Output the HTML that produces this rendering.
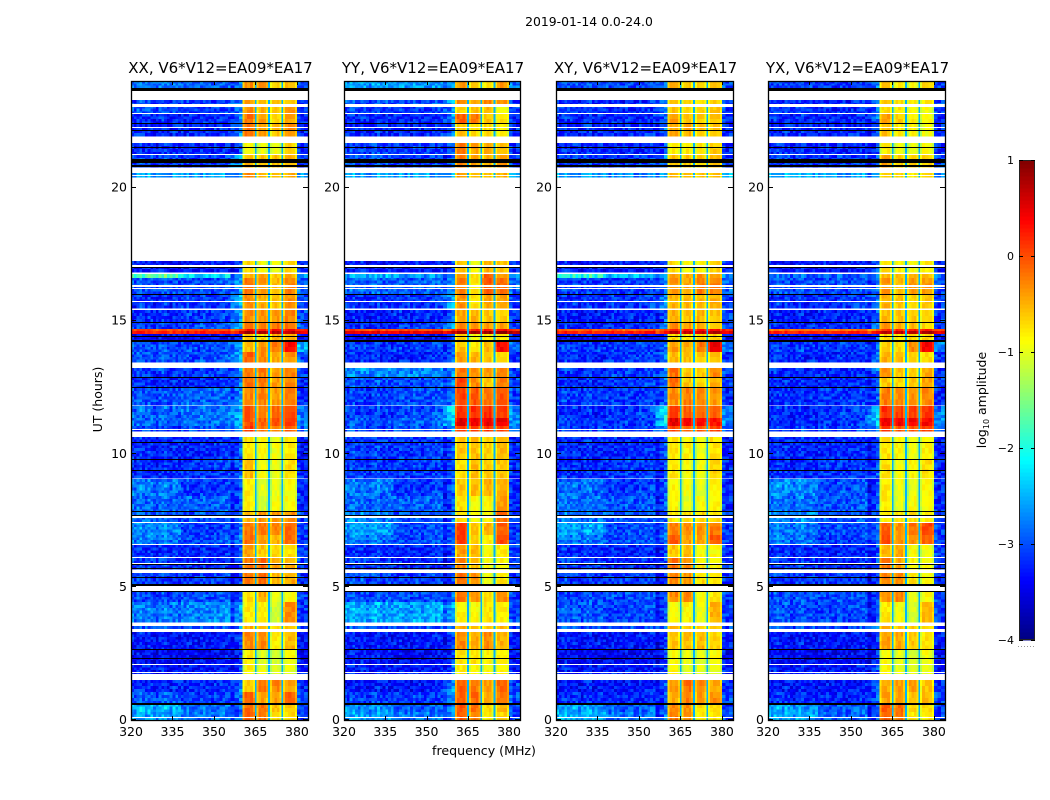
<!DOCTYPE html>
<html>
<head>
<meta charset="utf-8">
<title>2019-01-14 0.0-24.0</title>
<style>
html,body{margin:0;padding:0;background:#fff;}
svg{display:block;font-family:"DejaVu Sans","Liberation Sans",sans-serif;fill:#000;}
</style>
</head>
<body>
<svg id="chart" xmlns="http://www.w3.org/2000/svg" width="1050" height="800" viewBox="0 0 1050 800" shape-rendering="crispEdges">
<rect x="0" y="0" width="1050" height="800" fill="#fff"/>
<text x="589" y="26" font-size="12.4" text-anchor="middle">2019-01-14 0.0-24.0</text>
<text x="102" y="399.5" font-size="12.5" text-anchor="middle" transform="rotate(-90 102 399.5)">UT (hours)</text>
<text x="484" y="755" font-size="12.6" text-anchor="middle">frequency (MHz)</text>
<text x="986" y="400" font-size="12.5" text-anchor="middle" transform="rotate(-90 986 400)">log<tspan font-size="8" dy="3">10</tspan><tspan dy="-3"> amplitude</tspan></text>
<g id="panels"></g>
<g id="colorbar"></g>
</svg>
<script>
const panelTitles = ["XX, V6*V12=EA09*EA17","YY, V6*V12=EA09*EA17","XY, V6*V12=EA09*EA17","YX, V6*V12=EA09*EA17"];
const freqTicks = [320,335,350,365,380];
const timeTicks = [0,5,10,15,20];
const colorTicks = [1,0,-1,-2,-3,-4];
const colorTickLabels = ["1","0","\u22121","\u22122","\u22123","\u22124"];

// Time bins in UT hours (top and bottom of each band)
const timeBinTop = [24,23.29,23.06,22.76,22.38,21.67,21.22,20.54,17.24,16.75,16.60,16.0,15.40,14.95,14.68,14.61,14.50,14.20,13.82,13.22,12.88,12.47,11.79,11.34,11.04,10.63,9.77,9.05,8.41,7.81,7.44,6.95,6.57,6.08,5.60,4.81,4.43,3.53,3.31,2.63,2.07,1.50,1.05,.60,.30];
const timeBinBottom = [23.74,23.06,22.76,22.38,21.93,21.22,20.77,20.39,16.83,16.60,16.0,15.47,14.95,14.68,14.61,14.50,14.20,13.82,13.45,12.88,12.47,11.83,11.34,11.04,10.85,9.80,9.09,8.41,7.81,7.44,6.95,6.57,6.08,5.67,5.11,4.43,3.68,3.31,2.63,2.07,1.50,1.05,.60,.30,0];

// Flagged time spans in UT hours [low, high]
const whiteFlags = [[23.03,23.14],[22.76,22.81],[22.22,22.26],[21.22,21.26],[20.44,20.48],[17.00,17.10],[16.27,16.33],[16.18,16.21],[15.70,15.75],[10.89,10.93],[7.60,7.67],[7.41,7.44],[6.57,6.61],[6.07,6.12],[5.86,5.90],[5.54,5.60],[2.07,2.10],[3.31,3.41],[1.75,1.80],[1.50,1.71],[.05,.10]];
const blackFlags = [[23.64,23.75],[22.40,22.43],[22.11,22.15],[21.48,21.51],[20.92,21.07],[20.74,20.83],[16.97,17.01],[15.97,16.0],[14.92,14.96],[14.37,14.42],[14.19,14.27],[12.85,12.87],[12.47,12.51],[10.40,10.44],[9.77,9.80],[9.35,9.39],[7.80,7.84],[7.65,7.69],[5.83,5.86],[5.66,5.70],[5.32,5.36],[5.03,5.11],[4.82,4.86],[2.63,2.67],[2.29,2.33],[.57,.63]];

// Frequency channels (MHz edges), the band each one reads, and its offset from the band level
const channelEdges = [320,321,322,323,324,325,326,327,328,329,330,331,332,333,334,335,336,337,338,339,340,341,342,343,344,345,346,347,348,349,350,351,352,353,354,355,356,357.5,359,360.4,361.1,362,363,364.1,364.8,365.4,366.1,367,368,368.9,369.6,370.2,370.9,371.8,372.8,373.7,374.4,375,375.7,376.8,378,379.3,380,381.3,382.6,384];
const channelBand = [0,0,0,0,0,0,0,0,0,0,0,0,0,0,0,0,0,0,1,1,1,1,1,1,1,1,1,1,1,1,1,1,1,1,1,1,2,2,2,3,3,3,3,3,-1,4,4,4,4,4,-1,5,5,5,5,5,-1,6,6,6,6,6,7,7,7];
const channelOffset = [.08,-.04,.1,.14,.02,-.02,.1,.04,-.06,-.1,.06,.08,.12,-.04,-.08,.06,.02,-.06,.03,-.05,.06,.02,-.04,0,-.08,.05,.06,.02,-.06,-.02,.05,0,.06,.04,.08,.1,-.3,-.1,.12,-.3,0,.02,.02,-.2,0,-.3,0,.02,.02,-.2,0,-.3,0,.02,.02,-.2,0,-.3,0,.02,.02,-.2,.12,-.05,.05];
const notchLevel = -2.5;
const backgroundBias = -0.12;
const speckleOffsets = [.18,-.22,.05,-.12,.3,-.3,.1,-.05,.24,-.18,.02,.34,-.25,.08,-.15,.14,-.28,.2,-.08,.12,-.2,.28,-.1,.03,-.26,.16,-.02,.24,-.16,.06,-.3,.19,-.07,.11,-.24,.27,-.13];
const speckleOrder = [14,3,27,9,33,20,6,1,30,17,24,11,36,5,22,29,8,15,2,34,19,26,12,0,31,7,23,16,35,10,28,4,21,13,32,18,25];

// log10 amplitude per time bin: [320-338, 338-356, 356-360, sub1, sub2, sub3, sub4, 380-384]
const xxLevels = [
[-2.7,-2.8,-2.6,-.35,-.35,-.65,-.55,-2.9],[-3,-3,-2.6,-.45,-.55,-.6,-.6,-3],[-2.9,-3,-2.7,-.35,-.5,-.6,-.4,-3],[-3.1,-3.1,-2.7,-.2,-.45,-.65,-.45,-3.1],[-3.1,-3.1,-2.7,-.15,-.4,-.6,-.35,-3.1],
[-3.1,-3.1,-2.9,-.9,-.95,-.95,-.7,-3.1],[-3,-3,-2.4,-.55,-.6,-.6,-.5,-3],[-2.5,-2.5,-2.4,-.3,-.5,-.6,-.5,-2.5],[-3.2,-3.2,-3,-.7,-.9,-.9,-.7,-3.1],[-1.6,-2.2,-2.5,-.5,-.4,-.6,-.5,-2.5],
[-2.9,-2.9,-2.5,-.2,-.35,-.55,-.3,-2.8],[-3.1,-3,-2.4,-.3,-.45,-.6,-.35,-3],[-3.1,-3,-2.5,-.3,-.35,-.35,-.3,-2.9],[-3,-2.9,-2.4,-.2,-.3,-.2,-.15,-2.9],[0,0,0,.3,.3,.35,.35,.1],
[.2,.25,.35,.8,.8,.75,.7,.4],[-3.3,-3.3,-3,-.6,-.7,-.5,-.5,-3.2],[-2.9,-2.9,-2.6,-.55,-.35,-.2,.35,-2.4],[-2.9,-2.9,-2.4,-.1,-.3,-.45,-.35,-2.9],[-3,-3,-2.6,-.2,-.25,-.4,-.25,-3],
[-3.1,-3.1,-2.8,-.15,-.2,-.4,-.3,-3.1],[-2.9,-2.8,-2.6,-.3,-.25,-.4,-.25,-3.1],[-2.8,-2.7,-2.4,-.05,-.25,-.15,.05,-2.7],[-2.8,-2.7,-2.4,0,-.1,0,.1,-2.6],[-3,-2.9,-2.6,.1,-.2,-.2,-.1,-2.8],
[-3.1,-3.1,-2.9,-.75,-.85,-.95,-.8,-3.2],[-3.1,-3,-2.8,-.55,-.9,-.95,-.75,-3.1],[-2.7,-3,-2.9,-.8,-1,-1,-.9,-3.1],[-2.8,-2.8,-2.9,-.8,-1.1,-.9,-.9,-3.1],[-2.8,-2.9,-2.8,-.55,-.35,-.35,-.35,-3],
[-2.6,-3,-2.8,-.2,-.2,-.25,-.15,-3],[-2.7,-2.9,-2.7,-.15,-.4,-.5,-.15,-3],[-3.1,-3.1,-3,-.4,-.6,-.7,-.75,-3],[-3,-3.1,-3,-.2,-.15,-.4,-.5,-3],[-3,-3,-3.1,-.2,-.15,-.5,-.45,-3.1],
[-2.95,-2.9,-2.9,-.75,-.45,-1,-.9,-3],[-2.7,-2.6,-2.6,-.8,-.8,-1.1,-.3,-3],[-2.9,-2.9,-2.6,-.5,-.6,-.7,-.6,-3],[-3.2,-3.2,-3,-.3,-.3,-.8,-.55,-3.2],[-3.3,-3.3,-3.1,-.8,-1.05,-1.1,-.9,-3.3],
[-3.2,-3.2,-3,-.85,-1,-1,-1,-3.2],[-3.1,-3.1,-2.8,-.6,-.2,-.3,-.45,-3.1],[-2.85,-3,-2.7,-.1,-.4,-.4,-.15,-2.9],[-2.4,-2.7,-2.8,-.15,-.2,-.6,-.6,-3],[-2.5,-2.7,-2.7,-.1,-.2,-.75,-.7,-3]];
const yyLevels = [
[-2.5,-2.5,-2.5,-.4,-.65,-.75,-.4,-2.7],[-2.9,-2.9,-2.5,-.3,-.4,-.3,-.35,-3],[-3,-3,-2.6,-.7,-.55,-.55,-.9,-3],[-3.1,-3.1,-2.6,-.1,-.2,-.6,-.75,-3.1],[-3.1,-3.1,-2.8,-.6,-.7,-.7,-.85,-3.1],
[-3,-3,-2.8,-.2,-.45,-.45,-.55,-3.1],[-2.9,-3,-2.9,-.25,-.45,-.5,-.4,-3],[-2.5,-2.5,-2.5,-.4,-.5,-.6,-.5,-2.5],[-3.2,-3.2,-3,-.6,-.9,-.5,-.6,-3.1],[-2.4,-2.5,-2.5,-.4,-.75,-.1,-.35,-2.6],
[-2.8,-2.8,-2.6,-.25,-.8,-.05,-.15,-2.8],[-3.1,-3,-2.5,-.35,-.75,-.45,-.45,-3],[-3.2,-3.1,-2.8,-.45,-.5,-.6,-.65,-3],[-3.1,-3,-2.5,-.3,-.4,-.4,-.4,-3],[0,0,0,.2,.3,.3,.3,.1],
[.45,.45,.5,.9,.9,.9,.9,.7],[-3.3,-3.3,-3,-.6,-.9,-.8,-.8,-3.2],[-3,-3,-2.8,-.6,-.8,-.5,.35,-2.8],[-3.1,-3.1,-2.8,-.4,-.5,-.6,-.7,-3.1],[-2.6,-2.6,-2.6,-.2,-.3,-.4,-.3,-3],
[-2.9,-2.9,-2.7,.05,-.3,-.6,-.25,-3],[-3,-2.9,-2.7,.05,-.05,-.2,-.05,-3],[-3,-2.9,-2.2,.15,.15,.15,.05,-2.6],[-2.9,-2.8,-2.2,.5,.45,.45,.45,-2.6],[-2.95,-2.9,-2.6,.05,.05,.1,.05,-2.8],
[-3,-3,-2.9,-.6,-.55,-.65,-.55,-3.1],[-3,-3,-2.9,-.75,-.55,-.6,-.6,-3.1],[-2.7,-3,-2.9,-.6,-.55,-.5,-.5,-3.1],[-2.8,-2.8,-2.9,-.75,-.9,-.85,-.4,-3.1],[-2.6,-2.9,-2.8,-.7,-.85,-.85,-.2,-3],
[-2.5,-2.9,-2.8,.1,-.6,-.5,-.1,-3],[-2.7,-2.9,-2.8,.05,-.7,-.8,.05,-3],[-3.1,-3.1,-3,-.4,-.5,-.9,-.8,-3],[-3,-3.1,-3,-.3,-.55,-.9,-.85,-3],[-2.9,-3,-3,-.15,-.35,-.95,-.8,-3.1],
[-2.9,-2.9,-2.8,-.15,-.3,-.7,-.35,-3],[-2.45,-2.45,-2.5,-.85,-.9,-.75,-.8,-3],[-2.9,-2.9,-2.7,-.5,-.6,-.6,-.55,-3],[-3.2,-3.2,-3,-.3,-.45,-.3,-.5,-3.2],[-3.2,-3.3,-3,-.75,-.75,-.85,-.8,-3.2],
[-3.2,-3.2,-2.9,-.8,-.85,-.9,-.85,-3.2],[-3.2,-3.2,-2.6,-.1,-.2,-.4,-.15,-3],[-3,-3,-2.6,-.1,-.15,-.45,-.2,-2.9],[-2.6,-2.8,-2.7,-.05,-.2,-.7,-.55,-2.9],[-2.5,-2.7,-2.7,-.1,-.25,-.8,-.7,-3]];
const xyLevels = [
[-2.9,-2.9,-2.6,-.5,-.6,-.65,-.55,-2.9],[-3.1,-3.1,-2.7,-.6,-.7,-.75,-.65,-3],[-3,-3.1,-2.8,-.6,-.7,-.7,-.6,-3],[-3.1,-3.1,-2.8,-.45,-.55,-.65,-.6,-3.1],[-3.1,-3.1,-2.8,-.45,-.5,-.6,-.6,-3.1],
[-3.1,-3.1,-2.9,-.8,-.8,-.8,-.65,-3.1],[-3,-3,-2.7,-.6,-.65,-.65,-.55,-3],[-2.5,-2.6,-2.5,-.5,-.6,-.6,-.6,-2.5],[-3.2,-3.2,-3,-.7,-.85,-.85,-.7,-3.1],[-1.9,-2.3,-2.5,-.4,-.45,-.35,-.45,-2.5],
[-3,-3,-2.7,-.35,-.45,-.25,-.25,-2.8],[-3.1,-3,-2.6,-.5,-.55,-.55,-.5,-3],[-3.2,-3.1,-2.9,-.5,-.55,-.55,-.6,-3],[-3.1,-3.1,-2.6,-.35,-.4,-.4,-.6,-3],[-.1,-.1,0,.3,.3,.3,.3,.2],
[.2,.25,.3,.7,.7,.65,.8,.4],[-3.3,-3.3,-3,-.7,-.8,-.7,-.7,-3.2],[-3,-3,-2.8,-.4,-.45,-.2,.45,-2.7],[-3.1,-3,-2.7,-.55,-.55,-.6,-.6,-3.1],[-3.05,-3,-2.7,-.2,-.6,-.6,-.3,-3],
[-3.1,-3,-2.8,-.15,-.6,-.7,-.5,-3],[-3,-3,-2.8,-.3,-.25,-.3,-.4,-3.1],[-3.1,-3,-2.1,.1,-.1,-.1,-.1,-2.7],[-3,-3,-2.2,.5,.4,.35,.3,-2.6],[-3,-3,-2.7,.05,-.05,-.05,0,-2.8],
[-3.1,-3.1,-2.9,-.75,-.85,-.95,-.75,-3.2],[-3.1,-3,-2.9,-.75,-.9,-.95,-.7,-3.1],[-2.75,-3,-2.9,-.85,-.95,-1,-.85,-3.1],[-2.75,-2.85,-2.9,-.85,-1,-.9,-.85,-3.1],[-2.7,-2.9,-2.9,-.8,-.7,-.7,-.75,-3],
[-2.5,-2.9,-2.8,-.25,-.3,-.35,-.2,-3],[-2.7,-2.9,-2.8,-.05,-.4,-.4,-.05,-3],[-3.1,-3.1,-3,-.6,-.55,-.9,-.9,-3],[-3,-3.1,-3,-.2,-.3,-.8,-.9,-3],[-3,-3,-3.1,-.3,-.35,-.7,-.75,-3.1],
[-2.95,-2.9,-2.9,-.3,-.3,-.9,-.8,-3],[-2.85,-2.95,-2.95,-.9,-.85,-.95,-.5,-3],[-2.9,-2.9,-2.7,-.55,-.6,-.65,-.6,-3],[-3.2,-3.2,-3.1,-.6,-.55,-.55,-.7,-3.2],[-3.3,-3.3,-3.1,-.9,-.95,-1,-.9,-3.3],
[-3.2,-3.2,-3,-.9,-1,-1,-1,-3.2],[-3.2,-3.2,-2.9,-.4,-.2,-.3,-.45,-3.1],[-3.1,-3.1,-2.9,-.45,-.25,-.4,-.35,-2.9],[-2.5,-2.8,-2.9,-.3,-.35,-.7,-.7,-3],[-2.4,-2.7,-2.8,-.25,-.35,-.8,-.8,-3]];
const yxLevels = [
[-3,-3,-2.7,-.6,-.8,-.9,-.65,-2.9],[-3.1,-3.1,-2.7,-.55,-.75,-.8,-.75,-3],[-3,-3.1,-2.8,-.7,-.8,-.85,-.95,-3],[-3.1,-3.1,-2.8,-.4,-.65,-.8,-.9,-3.1],[-3.1,-3.1,-2.9,-.55,-.8,-.85,-.95,-3.1],
[-3.1,-3.1,-3,-.85,-.95,-.95,-.9,-3.1],[-3,-3,-2.9,-.45,-.65,-.65,-.65,-3],[-2.4,-2.5,-2.5,-.6,-.7,-.8,-.7,-2.5],[-3.2,-3.2,-3,-.7,-.85,-.9,-.8,-3.1],[-2.8,-2.8,-2.7,-.55,-.6,-.45,-.55,-2.8],
[-2.9,-2.9,-2.8,-.4,-.55,-.35,-.4,-2.9],[-3.1,-3,-2.7,-.5,-.6,-.7,-.6,-3],[-3.2,-3.1,-2.9,-.55,-.6,-.6,-.7,-3],[-3.1,-3.1,-2.7,-.4,-.5,-.5,-.7,-3],[-.2,-.2,-.1,.2,.2,.2,.3,0],
[.2,.2,.35,.75,.7,.7,.85,.45],[-3.3,-3.3,-3,-.7,-.8,-.7,-.7,-3.2],[-3,-3,-2.9,-.65,-.7,-.3,.4,-2.7],[-3.1,-3.1,-2.8,-.5,-.55,-.65,-.7,-3.1],[-3.1,-3.1,-2.8,-.3,-.6,-.65,-.5,-3],
[-3.1,-3.1,-2.9,-.6,-.7,-.6,-.45,-3],[-3.1,-3,-2.9,-.25,-.3,-.35,-.3,-3.1],[-3.1,-3,-2.3,.15,.05,.05,.15,-2.7],[-3.1,-3,-2.3,.45,.4,.4,.35,-2.6],[-3,-3,-2.7,.1,-.05,-.05,.1,-2.8],
[-3.1,-3.1,-3,-.75,-.85,-.95,-.85,-3.2],[-3.1,-3,-2.9,-.75,-.9,-.85,-.75,-3.1],[-2.6,-2.9,-3,-.8,-.95,-1,-.85,-3.1],[-2.75,-2.85,-2.9,-.8,-1,-.9,-.9,-3.1],[-2.6,-2.9,-2.9,-.75,-.75,-.75,-.85,-3],
[-2.7,-2.9,-2.8,-.1,-.35,-.2,.05,-3],[-2.7,-3,-2.8,-.05,-.35,-.3,-.1,-3],[-3.1,-3.1,-3,-.5,-.45,-.9,-.95,-3],[-3,-3.1,-3,-.2,-.45,-.85,-.9,-3],[-3,-3,-3.1,-.3,-.3,-.75,-.9,-3.1],
[-2.9,-2.9,-2.9,-.3,-.25,-1,-.9,-3],[-2.9,-2.95,-2.95,-.8,-.9,-1.05,-.5,-3],[-2.9,-2.9,-2.7,-.5,-.6,-.65,-.7,-3],[-3.2,-3.2,-3.1,-.4,-.45,-.6,-.75,-3.2],[-3.3,-3.3,-3.1,-.9,-1,-1.05,-.95,-3.3],
[-3.2,-3.2,-3,-.85,-1,-1,-1,-3.2],[-3.2,-3.2,-2.8,-.45,-.4,-.4,-.6,-3.1],[-3.1,-3.1,-2.8,-.45,-.4,-.55,-.55,-2.9],[-2.5,-2.8,-2.9,-.1,-.15,-.7,-.7,-3],[-2.45,-2.8,-2.9,-.1,-.2,-.8,-.8,-3]];
const panelLevels = [xxLevels, yyLevels, xyLevels, yxLevels];
const panelNames = ["xx","yy","xy","yx"];

const NS = "http://www.w3.org/2000/svg";
const PLOT_TOP = 81, PLOT_BOTTOM = 720;
const panelLefts = [131, 344, 556, 768];
const panelWidths = [177, 176, 177, 177];
const FREQ_MIN = 320, FREQ_MAX = 384, UT_MAX = 24;
const CB_LEFT = 1019, CB_RIGHT = 1035, CB_TOP = 160, CB_BOTTOM = 640;

function xScale(p, f) { return panelLefts[p] + (f - FREQ_MIN) / (FREQ_MAX - FREQ_MIN) * panelWidths[p]; }
function yScale(h) { return PLOT_BOTTOM - h / UT_MAX * (PLOT_BOTTOM - PLOT_TOP); }
function cbScale(v) { return CB_BOTTOM - (v + 4) / 5 * (CB_BOTTOM - CB_TOP); }

function clamp01(x) { return Math.max(0, Math.min(1, x)); }
function jet(level) {
  const v = clamp01((level + 4) / 5);
  const r = clamp01(Math.min(4 * v - 1.5, -4 * v + 4.5));
  const g = clamp01(Math.min(4 * v - 0.5, -4 * v + 3.5));
  const b = clamp01(Math.min(4 * v + 0.5, -4 * v + 2.5));
  return "rgb(" + Math.round(r * 255) + "," + Math.round(g * 255) + "," + Math.round(b * 255) + ")";
}

function svgEl(parent, tag, props) {
  const el = document.createElementNS(NS, tag);
  for (const k in props) el.setAttribute(k, props[k]);
  parent.appendChild(el);
  return el;
}

const panelsRoot = document.getElementById("panels");
const SUB_ROW_PX = 2.7, SUB_ROW_BAND_PX = 5;
const N_SPECK = speckleOffsets.length;

panelLevels.forEach(function (levels, p) {
  const left = panelLefts[p];
  const width = panelWidths[p];
  const g = svgEl(panelsRoot, "g", {});
  
  

  levels.forEach(function (row, r) {
    const y0 = yScale(timeBinTop[r]), y1 = yScale(timeBinBottom[r]);
    channelBand.forEach(function (band, c) {
      const x0 = xScale(p, channelEdges[c]), x1 = xScale(p, channelEdges[c + 1]);
      const isBackground = band <= 2 && band >= 0 || band === 7;
      const isFaint = band >= 0 && row[band] < -1.3;
      const step = isBackground ? SUB_ROW_PX : SUB_ROW_BAND_PX;
      const parts = band < 0 ? 1 : Math.max(1, Math.round((y1 - y0) / step));
      for (let s = 0; s < parts; s++) {
        const base = band < 0 ? notchLevel : row[band] + channelOffset[c];
        const pick = (speckleOrder[(c + p * 3) % N_SPECK] + speckleOrder[(s + r * 7) % N_SPECK] * 2) % N_SPECK;
        const speck = speckleOffsets[pick];
        const level = band < 0 ? base : (isFaint ? base + backgroundBias + speck : base + speck * 0.35);
        const cell = svgEl(g, "rect", {
          x: x0.toFixed(2),
          y: (y0 + (y1 - y0) * s / parts).toFixed(2),
          width: (x1 - x0 + 0.4).toFixed(2),
          height: ((y1 - y0) / parts + 0.4).toFixed(2),
          fill: jet(level)
        });
        
        
      }
    });
  });

  whiteFlags.forEach(function (span) {
    const top = Math.round(yScale(span[1]));
    const flag = svgEl(g, "rect", { x: left, y: top, width: width, height: Math.max(1, Math.round(yScale(span[0]) - yScale(span[1]))), fill: "#fff" });
    
    
  });
  blackFlags.forEach(function (span) {
    const top = Math.round(yScale(span[1]));
    const flag = svgEl(g, "rect", { x: left, y: top, width: width, height: Math.max(1, Math.round(yScale(span[0]) - yScale(span[1]))), fill: "#000" });
    
    
  });

  const frame = svgEl(g, "rect", { x: left + 0.5, y: PLOT_TOP + 0.5, width: width, height: PLOT_BOTTOM - PLOT_TOP, fill: "none", stroke: "#000", "stroke-width": 1.3, "shape-rendering": "auto" });
  
  

  freqTicks.forEach(function (f) {
    const x = Math.round(xScale(p, f)) + 0.5;
    const tickB = svgEl(g, "line", { x1: x, x2: x, y1: PLOT_BOTTOM, y2: PLOT_BOTTOM - 4, stroke: "#000" });
    
    
    const tickT = svgEl(g, "line", { x1: x, x2: x, y1: PLOT_TOP, y2: PLOT_TOP + 4, stroke: "#000" });
    
    
    const lab = svgEl(g, "text", { x: xScale(p, f), y: 736, "font-size": 12.5, "text-anchor": "middle" });
    
    
    lab.textContent = f;
  });
  timeTicks.forEach(function (h) {
    const y = Math.round(yScale(h)) - 0.5;
    const tickL = svgEl(g, "line", { x1: left, x2: left + 5, y1: y, y2: y, stroke: "#000" });
    
    
    const tickR = svgEl(g, "line", { x1: left + width, x2: left + width - 5, y1: y, y2: y, stroke: "#000" });
    
    
    const lab = svgEl(g, "text", { x: left - 4, y: yScale(h) + 4, "font-size": 12.5, "text-anchor": "end" });
    
    
    lab.textContent = h;
  });

  const title = svgEl(g, "text", { x: left + width / 2 + 1, y: 73, "font-size": 15, "text-anchor": "middle" });
  
  
  title.textContent = panelTitles[p];
});

const cb = document.getElementById("colorbar");
for (let i = 0; i < 120; i++) {
  const lev = -4 + (i + 0.5) * 5 / 120;
  const y = cbScale(-4 + (i + 1) * 5 / 120);
  const seg = svgEl(cb, "rect", { x: CB_LEFT, y: y, width: CB_RIGHT - CB_LEFT, height: 4.4, fill: jet(lev) });
  
  
}
const cbFrame = svgEl(cb, "rect", { x: CB_LEFT + 0.5, y: CB_TOP + 0.5, width: CB_RIGHT - CB_LEFT - 1, height: CB_BOTTOM - CB_TOP - 1, fill: "none", stroke: "#222" });


colorTicks.forEach(function (v, i) {
  const y = Math.round(cbScale(v));
  const a = svgEl(cb, "line", { x1: CB_LEFT, x2: CB_LEFT + 4, y1: y + 0.5, y2: y + 0.5, stroke: "#000" });
  
  
  const b = svgEl(cb, "line", { x1: CB_RIGHT, x2: CB_RIGHT - 4, y1: y + 0.5, y2: y + 0.5, stroke: "#000" });
  
  
  const lab = svgEl(cb, "text", { x: 1014, y: y + 4, "font-size": 11, "text-anchor": "end" });
  
  
  lab.textContent = colorTickLabels[i];
});
const dots = svgEl(cb, "line", { x1: CB_LEFT - 1, x2: CB_RIGHT, y1: 646.5, y2: 646.5, stroke: "#999", "stroke-dasharray": "1 2" });


</script>
</body>
</html>
